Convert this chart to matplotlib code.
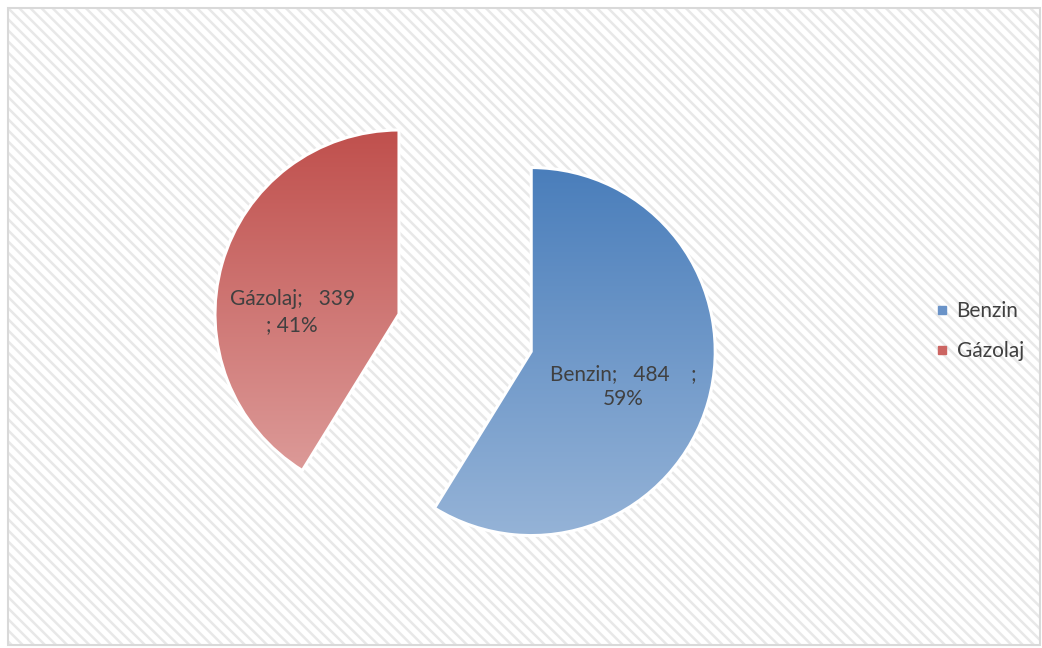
import numpy as np
import matplotlib.pyplot as plt
from matplotlib.patches import Rectangle
from matplotlib.lines import Line2D
from matplotlib.colors import LinearSegmentedColormap

# adatok
categories = ['Benzin', 'Gázolaj']
values = [484, 339]
label_texts = ['Benzin;   484    ;\n59%', 'Gázolaj;   339\n; 41%']
top_colors = ['#4a7ebb', '#c0504d']
bottom_colors = ['#95b3d7', '#dc9a98']
legend_colors = ['#6a93c8', '#cc6562']

plt.rcParams['font.family'] = ['Lato', 'DejaVu Sans']
plt.rcParams['hatch.linewidth'] = 1.8

W, H = 1042, 648
fig = plt.figure(figsize=(W / 100, H / 100), dpi=100)
fig.patch.set_facecolor('white')

# hatched chart area + border (behind the axes)
fig.patches.append(Rectangle((8 / W, 3 / H), 1032 / W, 637 / H, transform=fig.transFigure,
                             facecolor='white', edgecolor='#e8e8e8', hatch='\\\\\\', linewidth=0,
                             zorder=-10))
fig.patches.append(Rectangle((8 / W, 3 / H), 1032 / W, 637 / H, transform=fig.transFigure,
                             facecolor='none', edgecolor='#d9d9d9', linewidth=1.5, zorder=-9))

ax = fig.add_axes([0, 0, 1, 1])
ax.patch.set_visible(False)
radius = 184
wedges, _ = ax.pie(values, startangle=90, counterclock=False,
                   explode=(0.747 * radius, 0), center=(399, H - 314), radius=radius,
                   colors=['none', 'none'],
                   wedgeprops=dict(edgecolor='white', linewidth=2.2, zorder=3))

label_offsets = [(0.50, -0.19), (-0.58, 0.01)]

for i, w in enumerate(wedges):
    cx, cy = w.center
    t = np.radians(np.linspace(w.theta1, w.theta2, 200))
    xs = np.concatenate([[cx], cx + w.r * np.cos(t)])
    ys = np.concatenate([[cy], cy + w.r * np.sin(t)])
    cmap = LinearSegmentedColormap.from_list('g%d' % i, [top_colors[i], bottom_colors[i]])
    grad = np.linspace(0, 1, 256).reshape(-1, 1)
    im = ax.imshow(grad, extent=(xs.min(), xs.max(), ys.min(), ys.max()), origin='upper',
                   cmap=cmap, aspect='auto', interpolation='bilinear', zorder=2)
    im.set_clip_path(w)
    ox, oy = label_offsets[i]
    ax.text(cx + ox * radius, cy + oy * radius, label_texts[i], ha='center', va='center',
            fontsize=15, color='#404040', linespacing=1.35, zorder=4)

handles = [Line2D([], [], marker='s', linestyle='none', markersize=5.5, color=c) for c in legend_colors]
ax.legend(handles, categories, loc='center left', bbox_to_anchor=(918 / W, 1 - 331 / H),
          frameon=False, fontsize=15, labelspacing=0.95, handlelength=0.5, handletextpad=0.45,
          labelcolor='#404040')

ax.set_xlim(0, W)
ax.set_ylim(0, H)
ax.axis('off')

fig.savefig('out.png', dpi=100)
